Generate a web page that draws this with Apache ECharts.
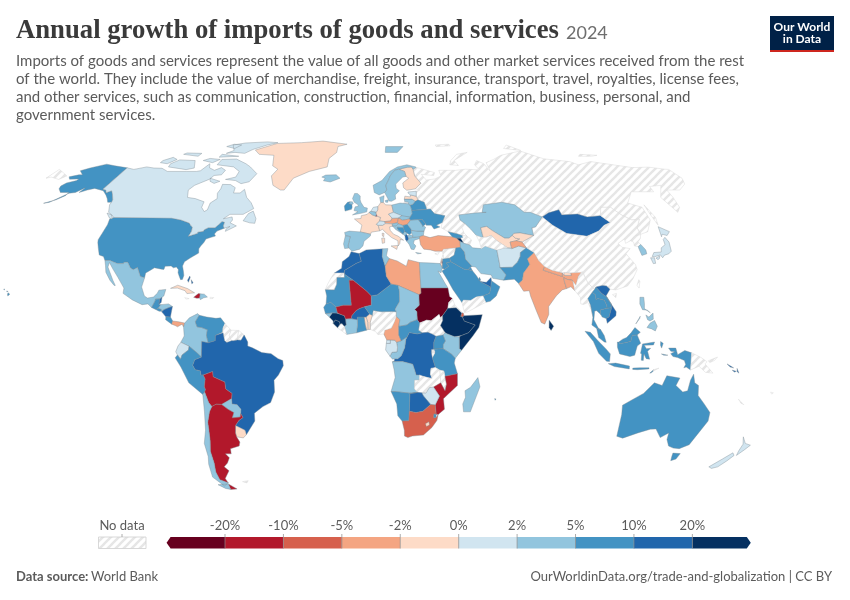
<!DOCTYPE html>
<html><head><meta charset="utf-8">
<style>html,body{margin:0;padding:0;background:#fff}#c{width:850px;height:600px}</style>
<script src="https://cdn.jsdelivr.net/npm/echarts@6/dist/echarts.min.js"></script>
</head><body><div id="c"></div>
<script>
// ---- Legend scale ----
const tickLabels=['-20%','-10%','-5%','-2%','0%','2%','5%','10%','20%'];
const binEdges=[-20,-10,-5,-2,0,2,5,10,20];
const binColors=['#67001f','#b2182b','#d6604d','#f4a582','#fddbc7','#d1e5f0','#92c5de','#4393c3','#2166ac','#053061'];

// ---- Values (estimates inside each colour bin); anything absent is "No data" ----
const northAmerica={'Canada':1.2,'United States':6.5,'Mexico':3.2,'Greenland':-1,'Cuba':-1,'Haiti':-15,'Dominican Republic':3,'Bahamas':14,'Guatemala':7,'Belize':14,'El Salvador':7,'Honduras':3,'Nicaragua':14,'Costa Rica':7,'Panama':-3};
const southAmerica={'Colombia':3.5,'Venezuela':7,'Ecuador':1,'Peru':7,'Bolivia':-15,'Chile':3.5,'Argentina':-14,'Uruguay':-1,'Paraguay':3,'Brazil':14.8};
const europe={'Iceland':3,'Ireland':6,'United Kingdom':3,'Norway':3,'Sweden':3,'Finland':-1,'Estonia':1,'Latvia':-1,'Lithuania':3,'Denmark':3,'Netherlands':1,'Belgium':3,'Luxembourg':-15,'Germany':-0.5,'France':-1,'Spain':3,'Portugal':3.5,'Italy':-1,'Switzerland':1,'Austria':-3,'Czechia':1,'Slovakia':3,'Poland':3.5,'Hungary':-3,'Slovenia':3,'Croatia':3,'Bosnia and Herzegovina':7,'Serbia':7,'Montenegro':3,'Albania':12,'North Macedonia':3,'Greece':3,'Bulgaria':3,'Romania':3,'Moldova':6,'Ukraine':7,'Belarus':7.5};
const asia={'Turkey':-3,'Georgia':7,'Armenia':25,'Iraq':7,'Iran':3,'Israel':-1,'Palestine':-25,'Jordan':7,'Kuwait':7,'Saudi Arabia':7,'United Arab Emirates':14,'Qatar':7,'Oman':6.5,'Kazakhstan':3.5,'Uzbekistan':-1,'Kyrgyzstan':-1,'Tajikistan':-3,'Afghanistan':1,'Pakistan':7,'India':-3,'Nepal':-3,'Bhutan':-1,'Bangladesh':-3,'Sri Lanka':25,'Thailand':7,'Laos':7,'Cambodia':7,'Vietnam':14,'Malaysia':7,'Indonesia':7,'Philippines':3.5,'Mongolia':14,'South Korea':3,'Japan':1.2};
const africa={'Morocco':14,'Algeria':14,'Tunisia':3,'Libya':-3,'Egypt':3,'Mauritania':7,'Mali':-15,'Niger':7,'Chad':3,'Sudan':-25,'Ethiopia':25,'Somalia':25,'Djibouti':-7,'Senegal':6,'Guinea-Bissau':3,'Guinea':25,'Sierra Leone':25,'Ivory Coast':3,'Burkina Faso':14,'Ghana':7,'Togo':-1,'Benin':-1,'Cameroon':-3,'Central African Republic':7,'Gabon':1,'Equatorial Guinea':1,'Congo':3,'DR Congo':14,'Uganda':7,'Kenya':3,'Tanzania':7,'Angola':3,'Mozambique':-15,'Zimbabwe':1,'Namibia':7,'Botswana':14,'South Africa':-7,'Lesotho':-1,'Eswatini':7,'Madagascar':3,'Mauritius':7};
const oceania={'Australia':7,'New Zealand':1,'Solomon Islands':14};

// ---- Simplified country outlines, in [lon,lat,lon,lat,...] rings ----
const outlinesAmericas={
'United States':[[-124.7,48.4,-123.2,49,-95.2,49,-94.6,48.7,-89.5,48,-84.8,46.8,-83.5,45.8,-82.5,45.3,-82.1,43.6,-82.7,41.7,-79,42.8,-79,43.3,-76.5,43.6,-76.3,44.2,-74.7,45,-71.5,45,-70.3,46.2,-69.2,47.45,-67.8,47.1,-67.8,45.7,-67,44.8,-70,43.7,-70.8,42.6,-70,41.8,-71.5,41.4,-74,40.7,-74.5,39.3,-75.5,38,-76,36.9,-75.5,35.3,-77.5,34.2,-79,33.3,-81,32,-81.4,30.4,-80.5,28.3,-80,26.8,-80.3,25.3,-81.1,25.2,-81.8,26.2,-82.8,27.8,-82.9,29,-84,30,-85.3,29.7,-86.5,30.4,-89.2,30.3,-89.4,29.1,-90.5,29.2,-93.8,29.7,-95,29,-97.2,27.7,-97.2,25.9,-99.2,26.4,-101.4,29.8,-103.1,29,-104.5,29.6,-106.5,31.8,-108.2,31.8,-108.2,31.3,-111,31.3,-114.8,32.5,-117.1,32.5,-118.4,34,-120.6,34.6,-122.4,37.2,-123.8,39.3,-124.3,40.4,-124.1,43,-124,46.2],
[-141,69.6,-141,60.3,-139,60,-137.5,58.9,-135.5,59.7,-133.5,58.4,-130.5,56,-130,55,-132,55,-134,56.5,-136.5,58,-140,59.7,-146,60.7,-149,60,-152,59,-151.5,61,-154,59,-157,58.7,-158,58,-162,55,-164.5,54.6,-160,56,-157.5,57.7,-157.5,59,-162,59,-165,60.5,-166,61.7,-165,63,-161,64,-161,64.7,-166,64.6,-168,65.6,-164,66.5,-162,66.5,-166.5,68.3,-163,69.5,-156.5,71.3,-150,70.5],
[-155.9,20.2,-155,19.7,-155.7,19,-156,19.7],[-156.7,20.9,-156,20.7,-156.5,20.6],[-158.2,21.5,-157.7,21.3,-158,21.7]],
'Canada':[[-141,69.6,-136,68.9,-130,70,-125,69.5,-120,69.4,-115,68,-110,68,-104,68,-98,68,-96,68.3,-94,71.5,-92,69.6,-88,68.5,-85,69.7,-81.5,68.5,-82,66.5,-86,66.2,-87,64.6,-93,62,-94.6,60,-92.5,57,-88,56.5,-82.5,55.2,-82.3,53,-80,51.3,-78.8,52,-79,54.7,-76.6,56.5,-78,58.7,-77.5,60.5,-78,62.4,-73.5,62.3,-70,61,-69.5,58.8,-66,58.8,-64.5,60.3,-61.5,57,-58,54.8,-55.7,52.5,-60,50.2,-66.5,50.2,-69,48.5,-65,49.2,-64.3,48,-65,46.9,-61.5,45.7,-66,43.6,-66,44.5,-64.5,45.5,-67,44.8,-67.8,45.7,-67.8,47.1,-69.2,47.45,-70.3,46.2,-71.5,45,-74.7,45,-76.3,44.2,-76.5,43.6,-79,43.3,-79,42.8,-82.7,41.7,-82.1,43.6,-82.5,45.3,-83.5,45.8,-84.8,46.8,-89.5,48,-94.6,48.7,-95.2,49,-123.2,49,-125,50,-127.5,51,-130,54,-130,55,-130.5,56,-133.5,58.4,-135.5,59.7,-137.5,58.9,-139,60,-141,60.3],
[-80,73.7,-72,71.5,-68,70,-62,67,-64,63.5,-68,62.7,-72,64,-78,64.5,-73,65.5,-73,68,-78,70,-89,71,-89,73.5],[-117,70,-105,68.8,-101,69.5,-105,73,-115,73.3,-118,71.5],[-125,72,-120,71.5,-117,73.5,-121,74.5,-125,73],[-90,76.5,-85,77,-78,76.5,-75,78.5,-68,81,-62,82.5,-70,83,-85,82.3,-92,81,-87,78],[-92,76,-80,75,-80,74.6,-92,74.6],[-87,65,-80.5,63.7,-83,62.8,-86,63.7],[-59,47.7,-55.5,46.9,-53,46.7,-53,48.5,-55.5,51.5,-57.5,50.5],[-128,50.7,-125,50,-123.4,48.4,-125,48.7],[-117,76,-106,75,-106,76.5,-116,76.7],[-95,80,-88,79,-86,81,-92,81.5],[-100,73,-93,72,-90,73.5,-97,74]],
'Greenland':[[-73,78.2,-68,76,-58,75.5,-55,70.5,-51,69,-53,66,-50,62,-45,60,-43,60,-40,65,-32,68,-22,70,-22,74,-18,77,-18,80,-12,81.5,-30,83.5,-45,82.5,-62,82,-66,80.5]],
'Mexico':[[-117.1,32.5,-114.8,32.5,-111,31.3,-108.2,31.3,-108.2,31.8,-106.5,31.8,-104.5,29.6,-103.1,29,-101.4,29.8,-99.2,26.4,-97.2,25.9,-97.8,22.4,-96,19,-94.5,18.2,-92,18.6,-90.5,20,-90,21.2,-87,21.5,-87.5,19,-88.2,18.5,-89.1,17.9,-91,17.8,-91,17.2,-92.2,14.6,-94,16,-96.5,15.7,-101,17.5,-105.5,20,-105.5,22,-109,26,-112.5,29.5,-114.7,31.7,-114.7,30,-111,25,-109.5,23,-110,23,-112.3,25,-115,28,-116,30.5]],
'Guatemala':[[-92.2,14.6,-91,17.2,-91,17.8,-89.1,17.9,-89.2,15.9,-88.3,15.7,-89.3,14.4,-90.2,13.8]],
'Belize':[[-89.1,17.9,-88.2,18.5,-88.3,16.5,-89.2,15.9]],
'El Salvador':[[-90.2,13.8,-89.3,14.4,-87.8,13.9,-87.7,13.2,-88.8,13.2]],
'Honduras':[[-88.3,15.7,-85,16,-83.2,15,-84.7,14.6,-86.8,13.8,-87.7,13.2,-87.8,13.9,-89.3,14.4]],
'Nicaragua':[[-83.2,15,-83.7,11,-85.7,11.1,-87.7,13,-86.8,13.8,-84.7,14.6]],
'Costa Rica':[[-83.7,11,-82.6,9.5,-83,8.3,-85.7,10,-85.7,11.1]],
'Panama':[[-83,8.3,-82.6,9.5,-80,9.2,-77.4,8.7,-77.8,7.2,-78.5,8.3,-80.4,7.3,-81.5,7.8]],
'Cuba':[[-85,21.9,-82,23.1,-77.5,21.8,-74.2,20.2,-77.5,19.9,-78.5,21,-82,22]],
'Haiti':[[-74.4,18.5,-72.5,19.9,-71.7,19.8,-71.7,18.2,-73,18.1]],
'Dominican Republic':[[-71.7,19.8,-69.9,19.7,-68.4,18.6,-70,18.3,-71.4,17.6,-71.7,18.2]],
'Jamaica':[[-78.3,18.4,-76.3,18,-77.7,17.8]],
'Puerto Rico':[[-67.2,18.5,-65.6,18.4,-66,18,-67.2,18]],
'Bahamas':[[-78,25,-77.3,26.6,-77,26,-77.5,24.2],[-76.4,25.2,-75.4,24,-75.9,23.6]],
'Colombia':[[-77.4,8.7,-75.5,10.7,-72,12.3,-71.3,11.7,-72.8,9.2,-72,7.3,-70,7,-67.5,6.2,-67.8,4,-67,1.2,-69.8,1.7,-69.8,0,-70,-4.2,-72,-2.5,-75.2,-0.1,-78.8,1.4,-77.4,3.8,-77.8,7.2]],
'Venezuela':[[-72.8,9.2,-71.3,11.7,-68,11,-64,10.5,-62,10.7,-60,8.5,-60.8,6.8,-61,5.2,-60.7,5,-64,4,-64,2,-67,1.2,-67.8,4,-67.5,6.2,-70,7,-72,7.3]],
'Guyana':[[-60,8.5,-57.2,6,-58,4,-57,2,-59,1.3,-60,2,-60.7,5,-61,5.2,-60.8,6.8]],
'Suriname':[[-57.2,6,-54,5.9,-54.5,2.3,-56,2,-57,2,-58,4]],
'French Guiana':[[-54,5.9,-51.6,4.2,-52.9,2.2,-54.5,2.3]],
'Brazil':[[-60.7,5,-60,2,-59,1.3,-57,2,-56,2,-54.5,2.3,-52.9,2.2,-51.6,4.2,-50,1.5,-50,0,-48,-0.7,-44,-2.5,-40,-2.9,-37,-4.8,-35,-5.5,-34.8,-7.5,-37,-11,-39,-13,-39,-17.5,-41,-21.5,-44.5,-23,-48.5,-25.5,-48.7,-28.5,-52,-32.2,-53.4,-33.7,-53.7,-32,-57.6,-30.2,-55.8,-28.3,-53.8,-27.2,-54.6,-25.6,-54.3,-24,-55.8,-22.3,-58,-22,-58,-20,-57.6,-18,-60.2,-16.3,-60.4,-13.7,-65.3,-11.7,-65.4,-9.7,-69.5,-11,-70.6,-11,-70.6,-9.5,-72.9,-9,-73.9,-7.3,-72.9,-5.2,-70,-4.2,-69.8,0,-69.8,1.7,-67,1.2,-64,2,-64,4]],
'Ecuador':[[-78.8,1.4,-75.2,-0.1,-75.5,-1.5,-78.3,-3.4,-79,-5,-80.3,-3.4,-81,-2.2,-80,0]],
'Peru':[[-75.2,-0.1,-72,-2.5,-70,-4.2,-72.9,-5.2,-73.9,-7.3,-72.9,-9,-70.6,-9.5,-70.6,-11,-69.5,-11,-68.8,-12.5,-69.4,-15.5,-69,-16.5,-69.5,-17.5,-70.4,-18.4,-76,-14,-79,-8,-81.3,-4.5,-80.3,-3.4,-79,-5,-78.3,-3.4,-75.5,-1.5]],
'Bolivia':[[-69.5,-11,-65.4,-9.7,-65.3,-11.7,-60.4,-13.7,-60.2,-16.3,-57.6,-18,-58,-20,-62.6,-22.2,-65,-22.1,-67,-23,-68.2,-21.5,-69.5,-17.5,-69,-16.5,-69.4,-15.5,-68.8,-12.5]],
'Paraguay':[[-58,-20,-58,-22,-55.8,-22.3,-54.3,-24,-54.6,-25.6,-55,-27,-58.6,-27.3,-57.6,-25.3,-60,-24,-62.6,-22.2]],
'Uruguay':[[-57.6,-30.2,-53.7,-32,-53.4,-33.7,-55,-34.9,-58,-34.5,-58.2,-33]],
'Argentina':[[-65,-22.1,-62.6,-22.2,-60,-24,-57.6,-25.3,-58.6,-27.3,-55,-27,-54.6,-25.6,-53.8,-27.2,-55.8,-28.3,-57.6,-30.2,-58.2,-33,-58,-34.5,-57,-36.5,-57.7,-38,-62,-39,-62.3,-41,-65,-41,-63.7,-42.5,-65.3,-44.5,-67.5,-46,-65.8,-47.5,-69,-50.5,-68.4,-52.3,-72,-51,-72.5,-48,-71.7,-44.5,-71.7,-40,-70.5,-36,-70,-32,-69.8,-29,-68.3,-25,-67,-23],[-68.6,-52.7,-65.2,-54.7,-68.6,-54.9]],
'Chile':[[-69.5,-17.5,-68.2,-21.5,-67,-23,-68.3,-25,-69.8,-29,-70,-32,-70.5,-36,-71.7,-40,-71.7,-44.5,-72.5,-48,-72,-51,-68.4,-52.3,-71,-53.5,-75,-50,-74.5,-45,-73.5,-42,-73.5,-37,-71.5,-32,-70.5,-25,-70.4,-18.4],[-68.6,-52.7,-68.6,-54.9,-71,-54.5,-74,-53,-70.5,-52.8]],
'Falkland Islands':[[-61,-51.8,-58,-51.4,-59,-52.3]]
};
const outlinesEurope={
'Russia':[[31,69.7,33,69.4,41,67.5,40,66.2,33,66.7,35,64.2,40,64.7,44,66,44,68.5,54,68.5,60,69,68,68.7,67,71,70,73,73,71.5,74,68,75,72,81,73.5,88,75.5,104,77.7,113,73.8,127,72.5,130,71,140,72.5,160,69.7,170,69.9,178,69,180,68.9,180,65,177,62.5,170,60,163,60,162,57,160,53,156.7,51,155.5,57,163,62,156,61.5,155,59.3,143,59.3,135.5,54.7,141,53,140,48,135,43.5,131,42.5,130.7,42.3,131,45,135,48.4,131,48,127.5,50,125,53,120,53,117,49.7,110,49.2,106,50.3,98,50,98,52,92,50.8,87.8,49.2,83,51,80,51,77,54,71,55,61,54,59,51,61,51,55,50.7,47,50,47,48,49,46.5,47,45,47.5,43,48.5,41.8,46.5,41.9,44,42.7,40,43.5,37,45,38,47,40,49.7,35,50.5,33.5,52.3,31.5,53,31,55,28,56,27.5,57.5,28,59.5,30,60,27.8,60.5,31.5,62.9,29,66,29,69],
[20,54.4,22.8,54.4,22.8,55,21,55.3],[52,71,57,70.7,56,73,68,77,60,76,54,73],[142,46,143.5,49,143,54,142.5,54,142,50],[95,79,105,78,100,81],[50,80,60,80.5,60,81.5,50,81],[137,75,145,75,150,75.5,140,76],[-180,65,-180,68.9,-175,67.5,-170,66,-172,64.5,-178,65.5]],
'Finland':[[20.6,69,23.7,68,24,65.8,25.3,65,21.5,63,21.5,61,23,59.9,27.8,60.5,31.5,62.9,29,66,29,69,28.5,70,26,69.9]],
'Norway':[[31,69.7,29,69,28.5,70,26,69.9,20.6,69,18,68.5,15,66,14,64.5,12,62,12.3,60,11,59,10.5,59.3,8,58,5.5,59,5,62,10,64,15,68,20,70,26,71,31,70],[14,77,22,77,27,80,15,80]],
'Sweden':[[20.6,69,23.7,68,24,65.8,22,65.5,17.5,62.5,17.5,60.7,19,59.7,16.5,58,16.5,56.3,14.2,55.4,13,55.5,11,59,12.3,60,12,62,14,64.5,15,66,18,68.5]],
'Denmark':[[8.2,57,10.6,57.7,10.2,56,10,54.9,8.6,54.9],[11,55.7,12.6,56,12.3,55,11.2,55]],
'Iceland':[[-24,65.5,-22,66.4,-16,66.5,-13.6,65,-18.8,63.4,-22.7,63.9,-22,65]],
'United Kingdom':[[-5.7,50,-1,50.7,1.4,51.2,1.7,52.7,0,53,-1.6,55,-2,56,-2,57.6,-3.5,58.6,-5,58.6,-6,56.5,-5,55,-3,54,-3,53.4,-4.5,53.2,-5,51.7,-3,51.3],[-6,55.2,-5.5,54.4,-6.2,54.1,-7.8,54.4,-7.3,55.2]],
'Ireland':[[-7.3,55.2,-7.8,54.4,-6.2,54.1,-6,53,-6.3,52.2,-9.5,51.5,-10,53.5,-8.5,55]],
'France':[[2.5,51,4.2,50,5.8,49.5,6.5,49.5,8.2,49,7.6,47.6,6,46.3,7,45.5,7.5,43.8,3.5,43.3,3.1,42.5,-1.8,43.4,-1,46,-4.7,48.4,-1.5,48.6,-1.3,49.7,1.6,50.2],[8.6,42.9,9.5,42.8,9.2,41.4,8.7,41.8]],
'Spain':[[-1.8,43.4,3.1,42.5,3,41.8,0,39.8,-0.5,38,-2,36.8,-5.5,36,-7,37.2,-7.4,38,-6.5,41.6,-8.8,41.9,-9.2,43.2,-7,43.7]],
'Portugal':[[-8.8,41.9,-6.5,41.6,-7.4,38,-7,37.2,-8.9,37,-9.5,38.8]],
'Belgium':[[2.5,51,3.4,51.4,5.8,51.2,6.2,50.2,5.8,49.5,4.2,50]],
'Netherlands':[[3.4,51.4,4.7,53,7.1,53.3,7,52,6,50.8,5.8,51.2]],
'Luxembourg':[[5.8,49.5,6.2,50.2,6.5,49.5]],
'Germany':[[7.1,53.3,8.6,54.9,10,54.9,11,54,14.2,53.9,14.7,51,12.2,50.3,13.8,48.7,13,47.6,10,47.4,7.6,47.6,8.2,49,6.5,49.5,6.2,50.2,6,50.8,7,52]],
'Switzerland':[[7.6,47.6,10,47.4,10.4,46.6,9,45.9,7,45.9,6,46.3]],
'Austria':[[10,47.4,13,47.6,13.8,48.7,17,48.8,16.2,46.9,13.7,46.5,10.4,46.8]],
'Italy':[[7.5,43.8,7,45.5,7,45.9,9,45.9,10.4,46.6,10.4,46.8,13.7,46.5,13.7,45.6,12.3,45.3,12.5,44,14,42.5,16,41.8,18.5,40.2,17,40.5,16.6,38.9,15.8,38,15.8,40,13,41.2,10.5,43,8.8,44.4],[12.5,38,15.6,38.2,15.1,36.7],[8.3,41,9.7,41,9.6,39.2,8.5,39]],
'Poland':[[14.2,53.9,18.6,54.7,22.8,54.4,23.5,53.9,23.8,53,24,51.8,24,50.5,22.7,49.1,19,49.4,18.8,49.7,14.7,51]],
'Czechia':[[12.2,50.3,14.7,51,18.8,49.7,17,48.8,13.8,48.7]],
'Slovakia':[[17,48.8,18.8,49.7,19,49.4,22.7,49.1,22.2,48.4,18.8,47.9]],
'Hungary':[[16.2,46.9,17,48.8,18.8,47.9,22.2,48.4,22.8,48,21,46.3,18.8,45.9,16.5,46.5]],
'Slovenia':[[13.7,46.5,16.2,46.9,16.5,46.5,15.4,45.6,13.7,45.6]],
'Croatia':[[13.7,45.6,15.4,45.6,16.5,46.5,18.8,45.9,19,45,16,45.2,16,44.5,18.5,42.5,15,44.4,14.3,45.2]],
'Bosnia and Herzegovina':[[16,45.2,19,45,19.3,43.5,18.5,42.5,16,44.5]],
'Serbia':[[19,45,18.8,45.9,21,46.3,22.5,44.5,22.5,43,21.5,42.3,20.5,42.9,19.3,43.5]],
'Montenegro':[[19.3,43.5,20.5,42.9,20,42.5,19.3,41.9,18.5,42.5]],
'Albania':[[19.3,41.9,20,42.5,20.6,41.9,21,40.7,20,39.7,19.4,40.5]],
'North Macedonia':[[20.6,41.9,21.5,42.3,23,42,22.9,41.3,21,40.9]],
'Greece':[[21,40.7,22.9,41.3,26.3,41.6,26,40.8,23.5,40.2,23,39,24,38,23,36.6,21.7,36.8,21,38.5,20,39.7],[23.6,35.5,26.2,35.2,24.5,35]],
'Bulgaria':[[22.5,44,22.5,43,23,42,22.9,41.3,26.3,41.6,28,42,28.6,43.7,25.5,43.7]],
'Romania':[[22.8,48,26.6,48.2,28.2,46,29.6,45.2,28.6,43.7,25.5,43.7,22.5,44,22.5,44.5,21,46.3]],
'Moldova':[[26.6,48.2,28.5,48.2,30,46.4,28.2,45.5,28.2,46]],
'Ukraine':[[24,51.8,31.5,52.2,33.5,52.3,35,50.5,40,49.7,38,47,35,46,36.5,45.3,33.5,44.5,32.5,46,30,46,30,46.4,28.5,48.2,26.6,48.2,22.8,48,22.2,48.4,22.7,49.1,24,50.5]],
'Belarus':[[23.8,53,24,51.8,31.5,52.2,31.5,53,31,55,28,56,26.5,55.5,25,54.2,23.5,53.9]],
'Lithuania':[[21,55.3,21,56.3,25,56.3,26.5,55.5,25,54.2,23.5,53.9,22.8,54.4,22.8,55]],
'Latvia':[[21,56.3,21.5,57.5,24.3,57.2,24.5,58,27.5,57.5,28,56,26.5,55.5,25,56.3]],
'Estonia':[[23.5,59.2,28,59.5,27.5,57.5,24.5,58,23.5,58.7]],
'Cyprus':[[32.3,35,34.5,35.6,33.5,34.6]]
};
const outlinesAsia={
'Turkey':[[26,40.8,26.3,41.6,28,42,31,41.2,35,42,41.5,41.5,43.5,41,44.8,39.7,44.5,37.5,42.3,37.2,36.5,36.7,36,36,32.5,36,30.5,36.5,27.5,36.8,26.2,38.5]],
'Georgia':[[40,43.5,44,42.7,46.5,41.9,46.5,41.1,43.5,41,41.5,41.5]],
'Armenia':[[43.5,41,45.5,41,46.5,39,44.8,39.7]],
'Azerbaijan':[[46.5,41.9,48.5,41.8,50.3,40.3,49,38.4,46.5,39,45.5,41,46.5,41.1]],
'Syria':[[36,36,36.5,36.7,42.3,37.2,41,34.5,38.8,33.4,36,33.3,36,34.6]],
'Lebanon':[[35.1,33.1,36,33.3,36,34.6]],
'Israel':[[34.3,31.3,35.1,33.1,35.7,33,35,29.5]],
'Palestine':[[35,31.4,35.2,32.5,35.55,32.4,35.5,31.4]],
'Jordan':[[35,29.5,35.7,33,38.8,33.4,39.2,32,37,31.5,38,30.3,36,29.2]],
'Iraq':[[42.3,37.2,44.5,37.5,46,35.7,46,33,48.5,30.2,47.7,30,46.5,29,44.7,29.2,39.2,32,38.8,33.4,41,34.5]],
'Kuwait':[[47.7,30,48.4,28.6,46.5,29]],
'Saudi Arabia':[[36,29.2,38,30.3,37,31.5,39.2,32,44.7,29.2,46.5,29,48.4,28.6,50,26.6,51.3,24.5,55.2,22.7,55.7,22,55,20,52,19,49,18.6,46.5,17.3,43.3,17.4,42.7,16.4,39,21.5,37,25,34.8,28.5]],
'United Arab Emirates':[[51.3,24.5,54,24.2,56.3,26,56.3,24.8,55.7,22,55.2,22.7]],
'Qatar':[[50.8,24.7,51.6,25,51.2,26.1,50.8,25.5]],
'Oman':[[56.3,24.8,59.8,22.5,57.8,19,55,17,53,16.6,52,19,55,20,55.7,22]],
'Yemen':[[43.3,17.4,46.5,17.3,49,18.6,52,19,53,16.6,45,13,43.5,12.7,42.7,16.4]],
'Iran':[[44.8,39.7,46.5,39,49,38.4,50,37.3,54,37,56,38,61,36.5,61,31.5,60.9,29.8,63.2,27,61.7,25,57,25.7,56.5,27,52,27.5,50,30,48.5,30.2,46,33,46,35.7,44.5,37.5]],
'Afghanistan':[[61,36.5,65,37.3,68,37,71.5,38,74.9,37.3,71.5,35.5,71,34,69.3,31.9,66.4,29.9,60.9,29.8,61,31.5]],
'Pakistan':[[60.9,29.8,66.4,29.9,69.3,31.9,71,34,71.5,35.5,74.9,37.3,77.8,35.5,74,33,74.5,31,71,27.7,70,25,68.2,23.7,66.5,25.4,61.7,25,63.2,27]],
'India':[[77.8,35.5,79,32.5,81,30.2,80,28.8,88,26.4,88.2,27.9,89,26.8,92,26.8,92,27.8,97.3,28.3,95.2,26.5,93.3,23,92.3,24.5,92,25,89.8,25.3,88.5,26,88.5,24.5,89,21.8,87,21.3,84,19,80.2,15,80,12,78,8.3,76.5,8.9,74.5,14,72.8,19,72.5,21,70,20.8,69,22.4,68.2,23.7,70,25,71,27.7,74.5,31,74,33]],
'Nepal':[[80,28.8,88,26.4,88.2,27.9,84,28.8,81,30.2]],
'Bhutan':[[89,26.8,92,26.8,92,27.8,89,28]],
'Bangladesh':[[88.5,26,89.8,25.3,92,25,92.3,24.5,92.5,21,91,22.5,89,21.8,88.5,24.5]],
'Sri Lanka':[[80,9.8,81.8,7.5,80.6,5.9,79.8,7]],
'Mongolia':[[87.8,49.2,92,50.8,98,52,98,50,106,50.3,110,49.2,117,49.7,119.7,47,116,46,111.8,43.7,105,41.7,96,42.8,91,46]],
'China':[[73.6,39.5,80,42,80.5,45,82.5,45.3,87.8,49.2,91,46,96,42.8,105,41.7,111.8,43.7,116,46,119.7,47,117,49.7,120,53,125,53,127.5,50,131,48,135,48.4,131,45,130.7,42.3,128,42,124.3,40,121.5,39,122,40.7,118,39,119,37.5,122.5,37,119.5,35,122,31,122,29,119,25.5,116,22.8,110.5,21.3,108,21.6,106.7,22.8,105,23,102,22.4,101.2,21.5,98.7,24,97.5,28,97.3,28.3,92,27.8,89,28,88.2,27.9,84,28.8,81,30.2,79,32.5,77.8,35.5,74.9,37.3],[108.7,19.5,110.5,20,110,18.4]],
'Taiwan':[[120.2,23,121.5,25.2,121.8,24.5,120.9,22]],
'Kazakhstan':[[47,50,47,48,49,46.5,51,44.5,53,42,55,41.3,56,41.3,56,45,59,45.5,61,44,66,41,68,41,70,42,71,42.8,74,43,80,42,80.5,45,82.5,45.3,87.8,49.2,83,51,80,51,77,54,71,55,61,54,59,51,61,51,55,50.7]],
'Uzbekistan':[[56,45,59,45.5,61,44,66,41,68,41,70,42,71,41,73,40.7,71,40,68,39.5,68,37.3,66,37.4,62,40,60,42,57.5,41.3,56,41.3]],
'Turkmenistan':[[53,42,55,41.3,56,41.3,57.5,41.3,60,42,62,40,66,37.4,65,37.3,61,36.5,56,38,54,37,53.8,39.5]],
'Kyrgyzstan':[[70,42,71,42.8,74,43,80,42,73.6,39.5,71,40,73,40.7,71,41]],
'Tajikistan':[[68,39.5,71,40,73.6,39.5,74.9,37.3,71.5,38,68,37,68,37.3]],
'North Korea':[[124.3,40,128,42,130.7,42.3,129.7,41,127.5,39.5,128.3,38.6,126.7,37.8,125,38,125.5,39.5]],
'South Korea':[[126.7,37.8,128.3,38.6,129.4,36.5,129,35,126.5,34.4,126.5,37]],
'Japan':[[131,34,132.5,35.5,136,35.7,137,37.3,139.5,38.5,140,40.5,141.4,41.3,142,39.5,140.8,36,139,35,136.8,34.5,135.5,33.5,135,34.6,132,33.9],[140,41.5,141.5,45.4,145.3,43.5,143,42,141,42.5],[130,33.5,131.8,33.5,131.3,31.4,130.2,31.3],[132.4,33.4,134.5,34.2,134,33.3,133,32.8]],
'Myanmar':[[92.5,21,92.3,24.5,93.3,23,95.2,26.5,97.3,28.3,97.5,28,98.7,24,101.2,21.5,100,20.4,97.7,18,98.5,15.5,99,11,98.5,14,97.5,16.5,95.5,15.8,94.3,16,94.5,18.5]],
'Laos':[[100,20.4,101.2,21.5,102,22.4,104,20,106,18.7,107.5,16,107.5,14.5,105.5,14.3,105.5,15.5,104.8,17.4,102,18,101.2,17.5,101.2,19.5]],
'Thailand':[[97.7,18,100,20.4,101.2,19.5,101.2,17.5,102,18,104.8,17.4,105.5,15.5,105.5,14.3,102.5,13.7,102.5,12,100.9,13.4,100,13.3,99.3,10,101,6.8,102,6.2,100.3,6.6,98.3,8,99,11,98.5,15.5]],
'Cambodia':[[102.5,13.7,105.5,14.3,107.5,14.5,106,11,104.7,10.4,103,11,102.5,12]],
'Vietnam':[[102,22.4,105,23,106.7,22.8,108,21.6,105.8,19,109.3,13,109,11.5,105,8.6,104.7,10.4,106,11,107.5,14.5,107.5,16,106,18.7,104,20]],
'Malaysia':[[100.3,6.6,102,6.2,103.4,4,104.2,1.4,103.4,1.5,101,3.2],[109.6,1.5,111.3,2.6,113,3.2,115,5,116.8,7,119,5.2,117.6,4.2,115.5,4,114.8,1.8,113,1.3,110,0.9]],
'Indonesia':[[95.2,5.6,97.5,5.2,100.5,2.2,104,-1,106,-3,105.8,-5.9,104.5,-5.8,101,-2.8,98.7,1.7],[109,1.5,109.6,1.5,110,0.9,113,1.3,114.8,1.8,115.5,4,117.6,4.2,119,1,117.5,0,116.5,-3.5,114.5,-4,110,-3,109,-0.5],[105.3,-6.7,108.5,-6.5,114.5,-7.6,114.5,-8.7,108,-7.8],[119.8,0.8,125,1.5,124.5,0.4,120.5,0.3,121.5,-1,123.3,-0.9,122,-2,123,-5,121.5,-4.8,120.5,-3,120.3,-5.5,119.4,-5.4,119.5,-3,119,-2.8],[131,-0.8,134.1,-0.8,135,-3.3,138,-1.7,141,-2.6,141,-9.1,139,-8,138,-8.3,138.7,-7,138,-5.5,135,-4.4,133,-4,132,-2.9,133.7,-2.2,132,-2],[127.6,1.7,128.7,1,128,-0.8,127.5,0.3],[128,-3,130.8,-3.5,129,-3.5],[116,-8.4,119,-8.3,123,-8.3,123,-8.7,118,-9,116,-8.9],[123.5,-10.3,125,-9,125,-9.5,124,-10.3]],
'Timor-Leste':[[125,-9,127.3,-8.4,125,-9.5]],
'Philippines':[[120.5,18.5,122.2,18.5,122,16,121.7,14.2,124,12.6,123,13.6,120.8,13.8,120,16],[122,7,123.5,8.7,125.5,9.7,126.5,7.5,125.5,5.7,124,6.5],[122,11.8,123.2,11,125.2,12.5,125,10.2,123.5,9.5,122.5,10],[117.3,8.4,119.5,11.3,119.2,10.5]]
};
const outlinesAfrica={
'Morocco':[[-5.9,35.8,-2.2,35.1,-1.2,32.2,-3.6,31.3,-8.7,28.7,-8.7,27.7,-13.2,27.7,-10,29.5,-9.8,32,-6.8,34]],
'Western Sahara':[[-13.2,27.7,-8.7,27.7,-8.7,26,-12,26,-12,23.5,-13,21.3,-17,21.4,-16,23.5,-14.5,26]],
'Algeria':[[-2.2,35.1,1,36.5,8.6,36.9,8.3,34,9.5,30.3,9.9,26.5,12,23.5,5.8,19.4,3.2,19,1.2,20.8,-4.8,25,-8.7,27.3,-8.7,28.7,-3.6,31.3,-1.2,32.2]],
'Tunisia':[[8.6,36.9,11,37,10.2,34.3,11.5,33.2,9.5,30.3,8.3,34]],
'Libya':[[11.5,33.2,15,32.3,19,30.3,20,32.8,25,31.7,25,22,25,20,24,19.5,15,23,12,23.5,9.9,26.5,9.5,30.3]],
'Egypt':[[25,31.7,31,31.5,34.3,31.3,35,29.5,34.3,27.8,33,28.5,35.7,23.9,36.9,22,25,22]],
'Sudan':[[25,22,36.9,22,37.4,18.8,38.6,18,36.9,16.5,36.4,14.3,34,11.5,33,10.7,32.5,12,29,9.6,27,9.8,24,8.7,23,10,22.9,13,22,13.9,24,15.5,24,19.5,25,20]],
'South Sudan':[[24,8.7,27,9.8,29,9.6,32.5,12,33,10.7,34,11.5,34,9.7,33,7.8,35,5,34,4.2,31,3.7,29.5,4.5,27.5,5.2,25,5,23.5,6]],
'Eritrea':[[38.6,18,39.5,15.5,43,12.5,42.3,12.5,40,14.5,36.4,14.3,36.9,16.5]],
'Djibouti':[[42.3,12.5,43,12.5,43.3,11.5,42.6,11,41.8,11.2]],
'Ethiopia':[[36.4,14.3,40,14.5,42.3,12.5,41.8,11.2,42.6,11,43.3,9.5,48,8,45,5,42,4,39,3.5,35.9,4.6,35,5,33,7.8,34,9.7,34,11.5]],
'Somalia':[[43.3,11.5,51.2,11.9,49.5,7,47,4,42,-1.6,41,-1,41,3.5,42,4,45,5,48,8,43.3,9.5,42.6,11]],
'Kenya':[[35.9,4.6,39,3.5,41,3.5,41,-1,42,-1.6,39.3,-4.7,37.7,-3.1,34,-1,34,0.5,35,1.9,34,4.2,35,5]],
'Uganda':[[30,-1.2,34,-1,34,0.5,35,1.9,34,4.2,31,3.7,30,1.4]],
'Tanzania':[[30,-1.2,34,-1,37.7,-3.1,39.3,-4.7,38.9,-6.5,40.4,-10.5,35,-11.5,34.5,-9.5,32.8,-9.2,30.8,-8.2,29.4,-4.5,30.5,-2.6,30.5,-2.3]],
'Rwanda':[[29,-1.3,30,-1.2,30.5,-2.3,29,-2.7]],
'Burundi':[[29,-2.7,30.5,-2.6,29.4,-4.4]],
'DR Congo':[[12.2,-6,13,-5.8,13.2,-4.8,14.4,-4.9,16,-3.8,17.5,-0.7,18,2.5,18.6,3.5,19.5,5.1,23,4.6,25,5,27.5,5.2,29.5,4.5,31,3.7,30,1.4,30,-1.2,29,-1.3,29,-2.7,29.4,-4.5,30.8,-8.2,28.9,-8.5,28.7,-10.7,29.5,-12.3,27.5,-12,25.5,-11.5,22.5,-11,22,-9.5,21,-6.9,16.5,-5.9]],
'Congo':[[11.2,-3.9,12.3,-5,13.2,-4.8,14.4,-4.9,16,-3.8,17.5,-0.7,18,2.5,18.6,3.5,16,2,14,1.4,14.4,-0.5,14.2,-2.2,12,-2.4]],
'Gabon':[[9.3,-1.5,9.6,1,11.3,1,11.3,2.3,13.3,2.2,14,1.4,14.4,-0.5,14.2,-2.2,12,-2.4,11.2,-3.9]],
'Equatorial Guinea':[[9.6,1,9.8,2.3,11.3,2.3,11.3,1]],
'Cameroon':[[8.5,4.6,9.8,2.3,11.3,2.3,13.3,2.2,14,1.4,16,2,15,4.2,15,7.5,15.5,10,14,11.3,13,9,11.8,6.8,8.9,6]],
'Nigeria':[[2.7,6.3,5,5.5,6,4.3,8.5,4.6,8.9,6,11.8,6.8,13,9,14,11.3,14,13,12,13.1,7.5,13,4,13.5,3.6,11.7,2.7,9]],
'Benin':[[1.7,6.3,2.7,6.3,2.7,9,3.6,11.7,2.4,12.2,0.9,11,1.6,9]],
'Togo':[[1.1,6,1.7,6.3,1.6,9,0.9,11,0,11,0.5,8]],
'Ghana':[[-3.2,5,1.1,6,0.5,8,0,11,-2.9,11,-2.8,8]],
'Ivory Coast':[[-7.5,4.4,-3.2,5,-2.8,8,-2.9,10,-5.5,10.4,-8,10.3,-7.7,8,-8.5,7.5]],
'Burkina Faso':[[-5.5,10.4,-2.9,10,-2.9,11,0,11,0.9,11,2.4,12.2,0.2,14.9,-2,14.2,-3.5,13.4,-5.3,11.5]],
'Liberia':[[-11.4,6.9,-7.5,4.4,-8.5,7.5,-9.5,8.5,-10.3,8.4]],
'Sierra Leone':[[-13.3,8.5,-11.4,6.9,-10.3,8.4,-10.7,9.3,-12.5,9.9]],
'Guinea':[[-15,11,-13.3,9.5,-13.3,8.5,-12.5,9.9,-10.7,9.3,-10.3,8.4,-9.5,8.5,-8.5,7.5,-7.7,8,-8,10.3,-8.5,11.5,-10,12,-12,12.5,-13.7,12.6]],
'Guinea-Bissau':[[-16.7,12.3,-13.7,12.6,-15,11]],
'Senegal':[[-17.5,14.7,-16.5,16,-14.5,16.6,-12.2,14.8,-11.5,12.5,-12,12.5,-13.7,12.6,-16.7,12.3]],
'Mauritania':[[-17,21.4,-13,21.3,-12,23.5,-12,26,-8.7,26,-8.7,27.3,-4.8,25,-6.6,25,-5.5,15.5,-9,15.5,-12.2,14.8,-14.5,16.6,-16.5,16,-16.3,19]],
'Mali':[[-12.2,14.8,-9,15.5,-5.5,15.5,-6.6,25,-4.8,25,1.2,20.8,3.2,19,3.2,15.5,0.2,14.9,-2,14.2,-3.5,13.4,-5.3,11.5,-5.5,10.4,-8,10.3,-8.5,11.5,-10,12,-11.5,12.5]],
'Niger':[[3.2,15.5,3.2,19,5.8,19.4,12,23.5,15,23,15.5,20.8,15.5,16.9,13.5,14,14,13,12,13.1,7.5,13,4,13.5,3.6,11.7,2.4,12.2,0.2,14.9]],
'Chad':[[15,23,24,19.5,24,15.5,22,13.9,22.9,13,23,10,20,9,18.5,8,15.5,7.5,15,7.5,15.5,10,14,11.3,14,13,13.5,14,15.5,16.9,15.5,20.8]],
'Central African Republic':[[15,7.5,15.5,7.5,18.5,8,20,9,23,10,24,8.7,23.5,6,25,5,23,4.6,19.5,5.1,18.6,3.5,16,2,15,4.2]],
'Angola':[[12.2,-6,16.5,-5.9,21,-6.9,22,-9.5,22.5,-11,24,-11,24,-13,22,-13,22,-16.3,23.4,-17.6,20.8,-18,13.5,-17.3,11.8,-17.3,13.5,-12,13,-9]],
'Zambia':[[22,-13,24,-13,24,-11,25.5,-11.5,27.5,-12,29.5,-12.3,28.7,-10.7,28.9,-8.5,30.8,-8.2,32.8,-9.2,33,-11,33.3,-14,30.2,-15.6,28.5,-15.8,27,-17.9,25.2,-17.8,23.4,-17.6,22,-16.3]],
'Malawi':[[32.8,-9.2,34.5,-9.5,35,-11.5,35.8,-14.5,35.3,-17,33.3,-14,33,-11]],
'Mozambique':[[35,-11.5,40.4,-10.5,40.6,-15,36.5,-18.5,34.8,-20,35.5,-24,32.9,-26,32,-26,31.3,-22.4,33,-19,30.2,-15.6,33.3,-14,35.3,-17,35.8,-14.5]],
'Zimbabwe':[[25.2,-17.8,27,-17.9,28.5,-15.8,30.2,-15.6,33,-19,31.3,-22.4,29.3,-22.2,26,-19]],
'Botswana':[[20,-18,23.4,-17.6,25.2,-17.8,26,-19,29.3,-22.2,26,-24.8,23,-25.3,20,-24.8,20,-22]],
'Namibia':[[11.8,-17.3,13.5,-17.3,20.8,-18,23.4,-17.6,20,-18,20,-22,20,-28.4,17,-28.5,15,-26.5,14.4,-22]],
'South Africa':[[17,-28.5,20,-28.4,20,-24.8,23,-25.3,26,-24.8,29.3,-22.2,31.3,-22.4,32,-26,31,-25.8,31,-27.2,32,-27.2,32.9,-26,32.5,-28.3,30.5,-31,27,-33.8,22,-34.2,20,-34.8,18.4,-34.2,18.2,-32]],
'Eswatini':[[31,-25.8,32,-26,32,-27.2,31,-27.2]],
'Lesotho':[[27.5,-29.5,29,-28.8,29.3,-30,28,-30.6]],
'Madagascar':[[49.3,-12,50.4,-15.5,47,-25,44,-25,43.4,-22,44.4,-19.5,44,-17,46.3,-15.7]],
'Mauritius':[[57.2,-20,57.8,-20.1,57.5,-20.6]]
};
const outlinesOceania={
'Australia':[[113.7,-22.5,114.2,-26,115,-34.3,118,-35,124,-33,129,-31.6,131.5,-31.5,135,-34.8,138,-33,138.5,-35.5,140.8,-38,143.5,-38.8,146.4,-39,150,-37.5,151.5,-33,153.5,-28.5,153,-25.3,149.5,-22,146,-18.8,145.3,-15,143.5,-14,142.5,-10.7,141.5,-13,141,-17,139,-17.5,135.5,-15,136.8,-12.2,131,-11.3,129.5,-15,126,-14,122,-18,117,-20.7],[144.7,-40.7,148.3,-40.9,148,-43,146,-43.6,145.2,-42]],
'New Zealand':[[172.7,-34.5,175.5,-37,178.4,-37.7,177,-39.5,175.3,-41.6,174.7,-39.8,174.7,-37.3],[172.7,-40.6,174.2,-41.6,172.8,-43.7,170.8,-46,168.4,-46.6,166.5,-46,170,-43]],
'Papua New Guinea':[[141,-2.6,145,-4.3,147.8,-6,147,-6.8,150.8,-10.3,147.5,-10,144.5,-7.7,141,-9.1],[148.3,-5.6,152.2,-4.2,151,-5.5,149,-6.3]],
'Solomon Islands':[[156.5,-6.8,159.5,-8.3,158,-8],[159,-9.2,160.8,-9.6,160,-9.9],[161,-8.5,162,-10.3,161.2,-9.8]],
'New Caledonia':[[164,-20.2,167,-22.3,165.5,-21.7]],
'Fiji':[[177.3,-17.5,178.6,-17.8,178,-18.3]]
};

// ---- Robinson projection tables ----
const robA=[1,.9986,.9954,.99,.9822,.973,.96,.9427,.9216,.8962,.8679,.835,.7986,.7597,.7186,.6732,.6213,.5722,.5322];
const robB=[0,.062,.124,.186,.248,.31,.372,.434,.4958,.5571,.6176,.6769,.7346,.7903,.8435,.8936,.9394,.9761,1];
const robR=157, robCx=364, robCy=346;
function lerp(t,v){const p=Math.min(Math.abs(v)/5,17.9999),i=Math.floor(p);return t[i]+(t[i+1]-t[i])*(p-i);}
const projection={
  project(c){const a=lerp(robA,c[1]),b=lerp(robB,c[1]);
    return [robCx+.8487*robR*a*c[0]*Math.PI/180, robCy-Math.sign(c[1])*1.3523*robR*b];},
  unproject(p){const b=Math.min(1,Math.abs(robCy-p[1])/(1.3523*robR));let i=0;while(i<17&&robB[i+1]<b)i++;
    const lat=5*(i+(b-robB[i])/(robB[i+1]-robB[i]));const a=lerp(robA,lat);
    return [(p[0]-robCx)/(.8487*robR*a)*180/Math.PI,(p[1]>robCy?-1:1)*lat];}
};

const outlines=Object.assign({},outlinesAmericas,outlinesEurope,outlinesAsia,outlinesAfrica,outlinesOceania);
const growth=Object.assign({},northAmerica,southAmerica,europe,asia,africa,oceania);

function ring(f){const r=[];for(let i=0;i<f.length;i+=2)r.push([f[i],f[i+1]]);r.push([f[0],f[1]]);return r;}
const geo={type:'FeatureCollection',features:Object.keys(outlines).map(n=>({type:'Feature',properties:{name:n},
  geometry:{type:'MultiPolygon',coordinates:outlines[n].map(f=>[ring(f)])}}))};
echarts.registerMap('world',geo);

let minX=1e9,minY=1e9,maxX=-1e9,maxY=-1e9;
Object.values(outlines).forEach(rs=>rs.forEach(f=>{for(let i=0;i<f.length;i+=2){const p=projection.project([f[i],f[i+1]]);
  minX=Math.min(minX,p[0]);maxX=Math.max(maxX,p[0]);minY=Math.min(minY,p[1]);maxY=Math.max(maxY,p[1]);}}));

function binColor(v){let i=0;while(i<binEdges.length&&v>=binEdges[i])i++;return binColors[i];}
const tile=document.createElement('canvas');tile.width=tile.height=8;
(function(){const c=tile.getContext('2d');c.fillStyle='#fff';c.fillRect(0,0,8,8);c.strokeStyle='#e6e6e6';c.lineWidth=2.4;
  [[-4,4,4,-4],[-4,12,12,-4],[4,12,12,4]].forEach(l=>{c.beginPath();c.moveTo(l[0],l[1]);c.lineTo(l[2],l[3]);c.stroke();});})();
const hatch={image:tile,repeat:'repeat'};

const mapData=Object.keys(outlines).map(n=>{
  const v=growth[n];
  return v===undefined
    ?{name:n,itemStyle:{areaColor:hatch,borderColor:'#dadada',borderWidth:.5}}
    :{name:n,value:v,itemStyle:{areaColor:binColor(v),borderColor:'#7f8a92',borderWidth:.4}};
}).sort((a,b)=>(a.value===undefined?0:1)-(b.value===undefined?0:1));

// ---- Text ----
const titleText='Annual growth of imports of goods and services';
const yearText='2024';
const subtitleLines=['Imports of goods and services represent the value of all goods and other market services received from the rest','of the world. They include the value of merchandise, freight, insurance, transport, travel, royalties, license fees,','and other services, such as communication, construction, financial, information, business, personal, and','government services.'];
const sans='Lato';
function txt(x,y,t,size,color,extra){return {type:'text',x,y,silent:true,style:Object.assign({text:t,fontSize:size,fontFamily:sans,fill:color,textVerticalAlign:'middle',verticalAlign:'middle'},extra||{})};}

const g=[];
g.push(txt(16,31,titleText,26.7,'#3a3a3a',{fontFamily:'Liberation Serif',fontWeight:'bold'}));
g.push(txt(566,33,yearText,18,'#6e6e6e'));
subtitleLines.forEach((l,i)=>g.push(txt(16,61+i*18.2,l,15,'#5b5b5b')));
g.push({type:'rect',shape:{x:770,y:16,width:64,height:36},style:{fill:'#002147'},silent:true});
g.push({type:'rect',shape:{x:770,y:50,width:64,height:2},style:{fill:'#ce261e'},silent:true});
g.push(txt(802,27,'Our World',12,'#fff',{fontWeight:'bold',align:'center',textAlign:'center'}));
g.push(txt(802,39,'in Data',12,'#fff',{fontWeight:'bold',align:'center',textAlign:'center'}));

// legend
const lgX0=225,lgStep=58.42,lgY=537,lgH=11.5,lgTip=4;
g.push(txt(122,526,'No data',13,'#5b5b5b',{align:'center',textAlign:'center'}));
g.push({type:'rect',shape:{x:98.5,y:537,width:47.5,height:11.5},style:{fill:hatch,stroke:'#cfcfcf',lineWidth:.8},silent:true});
g.push({type:'line',shape:{x1:122,y1:534,x2:122,y2:537},style:{stroke:'#999',lineWidth:.8},silent:true});
binColors.forEach((c,i)=>{
  const x=lgX0+(i-1)*lgStep;
  if(i===0) g.push({type:'polygon',shape:{points:[[x+lgTip,lgY],[lgX0,lgY],[lgX0,lgY+lgH],[x+lgTip,lgY+lgH],[x,lgY+lgH/2]]},style:{fill:c},silent:true});
  else if(i===binColors.length-1) g.push({type:'polygon',shape:{points:[[x,lgY],[x+lgStep-lgTip,lgY],[x+lgStep,lgY+lgH/2],[x+lgStep-lgTip,lgY+lgH],[x,lgY+lgH]]},style:{fill:c},silent:true});
  else g.push({type:'rect',shape:{x,y:lgY,width:lgStep,height:lgH},style:{fill:c},silent:true});
});
tickLabels.forEach((t,i)=>{
  const x=lgX0+i*lgStep;
  g.push({type:'line',shape:{x1:x,y1:534,x2:x,y2:lgY+lgH},style:{stroke:'#8a8a8a',lineWidth:.7},silent:true});
  g.push(txt(x,526,t,13,'#5b5b5b',{align:'center',textAlign:'center'}));
});

// footer
g.push(txt(16,577,'Data source:',13,'#5b5b5b',{fontWeight:'bold'}));
g.push(txt(91,577,'World Bank',13,'#5b5b5b'));
g.push(txt(832,577,'OurWorldinData.org/trade-and-globalization | CC BY',13,'#5b5b5b',{align:'right',textAlign:'right'}));

const chart=echarts.init(document.getElementById('c'),null,{renderer:'canvas'});
chart.setOption({
  animation:false,backgroundColor:'#fff',
  tooltip:{show:false},
  series:[{type:'map',map:'world',projection,silent:true,roam:false,
    left:minX,top:minY,width:maxX-minX,height:maxY-minY,
    label:{show:false},emphasis:{disabled:true},select:{disabled:true},
    data:mapData}],
  graphic:{elements:g}
});
</script></body></html>
